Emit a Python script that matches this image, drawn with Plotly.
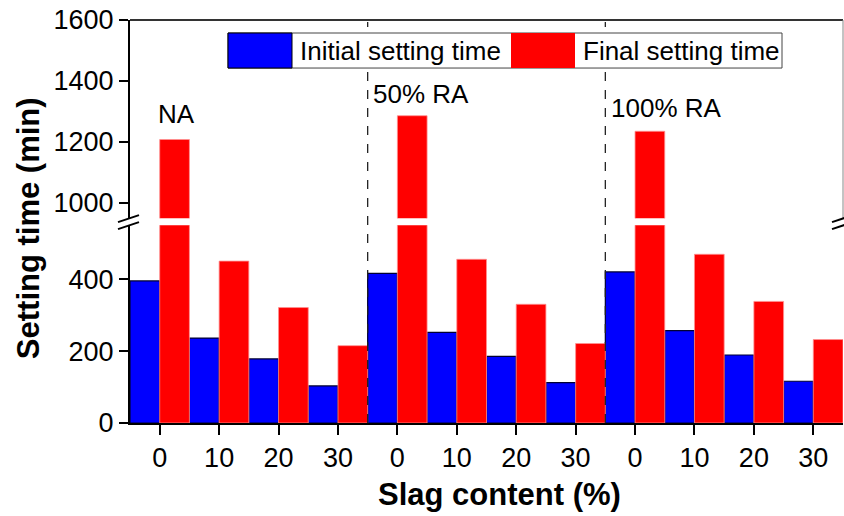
import plotly.graph_objects as go

# Setting times (min) for each aggregate type and slag content
groups = ["NA", "50% RA", "100% RA"]
slag_levels = ["0", "10", "20", "30"]
initial_time = [395, 236, 178, 103, 416, 252, 185, 112, 420, 257, 189, 116]
final_time = [1208, 450, 321, 215, 1286, 455, 330, 221, 1235, 469, 338, 232]

positions = list(range(len(initial_time)))
tick_text = slag_levels * len(groups)

W, H = 844, 516
L, R, T, B = 130, 843, 20, 422.7
BREAK_TOP, BREAK_BOT = 218, 225


def px(x):
    return (x - L) / (R - L)


def py(y):
    return (B - y) / (B - T)


FONT = "Arial, Liberation Sans, sans-serif"
BLUE = "#0000ff"
RED = "#ff0000"

fig = go.Figure()

# lower panel
fig.add_trace(go.Bar(x=positions, y=initial_time, width=0.5, offset=-0.5,
                     marker=dict(color=BLUE, line=dict(color="#000033", width=1.2)),
                     xaxis="x", yaxis="y", showlegend=False))
fig.add_trace(go.Bar(x=positions, y=final_time, width=0.5, offset=0,
                     marker=dict(color=RED, line=dict(color="#ff9090", width=0.8)),
                     xaxis="x", yaxis="y", showlegend=False))
# upper panel (above the axis break)
fig.add_trace(go.Bar(x=positions, y=final_time, width=0.5, offset=0,
                     marker=dict(color=RED, line=dict(color="#ff9090", width=0.8)),
                     xaxis="x", yaxis="y2", showlegend=False))

axis_common = dict(showline=True, linecolor="black", linewidth=2, ticks="outside",
                   tickcolor="black", tickwidth=2, showgrid=False, zeroline=False,
                   tickfont=dict(family=FONT, size=27, color="black"))

fig.update_layout(
    width=W, height=H,
    margin=dict(l=L, r=W - R, t=T, b=H - B),
    paper_bgcolor="white", plot_bgcolor="white",
    barmode="overlay",
    showlegend=False,
    xaxis=dict(range=[-0.5, 11.5], tickvals=positions, ticktext=tick_text,
               ticklen=10, anchor="y", **axis_common),
    yaxis=dict(domain=[0, py(BREAK_BOT)], range=[0, 550], tickvals=[0, 200, 400],
               ticklen=9, anchor="x", **axis_common),
    yaxis2=dict(domain=[py(BREAK_TOP), 1], range=[950, 1600],
                tickvals=[1000, 1200, 1400, 1600], ticklen=9, anchor="x", **axis_common),
)

shapes = []
# frame: top line and right edge of the upper panel
shapes.append(dict(type="line", xref="paper", yref="paper", x0=0, x1=1, y0=1, y1=1,
                   line=dict(color="#333333", width=2)))
shapes.append(dict(type="line", xref="paper", yref="paper", x0=1, x1=1,
                   y0=py(BREAK_TOP), y1=1, line=dict(color="#888888", width=1)))
# group separators
for xs in (3.5, 7.5):
    shapes.append(dict(type="line", xref="x", yref="paper", x0=xs, x1=xs, y0=0, y1=0.995,
                       line=dict(color="#222222", width=1.3, dash="dash")))
# axis break marks
for xc in (L, R + 1):
    for dy in (0, 7):
        shapes.append(dict(type="line", xref="paper", yref="paper",
                           x0=px(xc - 12), y0=py(222 + dy),
                           x1=px(xc + 9), y1=py(215 + dy),
                           line=dict(color="black", width=2)))

# legend box
LEG_X0, LEG_X1, LEG_Y0, LEG_Y1 = 228, 782, 33, 68
shapes.append(dict(type="rect", xref="paper", yref="paper",
                   x0=px(LEG_X0), x1=px(LEG_X1), y0=py(LEG_Y1), y1=py(LEG_Y0),
                   line=dict(color="#444444", width=1), fillcolor="white"))
shapes.append(dict(type="rect", xref="paper", yref="paper",
                   x0=px(LEG_X0), x1=px(292), y0=py(LEG_Y1), y1=py(LEG_Y0),
                   line=dict(color="black", width=1), fillcolor=BLUE))
shapes.append(dict(type="rect", xref="paper", yref="paper",
                   x0=px(511), x1=px(575), y0=py(LEG_Y1), y1=py(LEG_Y0),
                   line=dict(width=0), fillcolor=RED))
fig.update_layout(shapes=shapes)

annotations = []
legend_font = dict(family=FONT, size=26, color="black")
annotations.append(dict(text="Initial setting time", xref="paper", yref="paper",
                        x=px(298), y=py(51), xanchor="left", yanchor="middle",
                        showarrow=False, font=legend_font))
annotations.append(dict(text="Final setting time", xref="paper", yref="paper",
                        x=px(581), y=py(51), xanchor="left", yanchor="middle",
                        showarrow=False, font=legend_font))

# group labels
for label, xpos, ypos in zip(groups, (-0.06, 3.56, 7.56), (1291, 1357, 1311)):
    annotations.append(dict(text=label, xref="x", yref="y2", x=xpos, y=ypos,
                            xanchor="left", yanchor="middle", showarrow=False,
                            font=dict(family=FONT, size=26, color="black")))

# axis titles
title_font = dict(family=FONT, size=31, color="black")
annotations.append(dict(text="<b>Setting time (min)</b>", xref="paper", yref="paper",
                        x=px(28), y=py(228), textangle=-90, xanchor="center",
                        yanchor="middle", showarrow=False, font=title_font))
annotations.append(dict(text="<b>Slag content (%)</b>", xref="paper", yref="paper",
                        x=px(499), y=py(494), xanchor="center", yanchor="middle",
                        showarrow=False, font=title_font))
fig.update_layout(annotations=annotations)

fig.write_html("out.html")
